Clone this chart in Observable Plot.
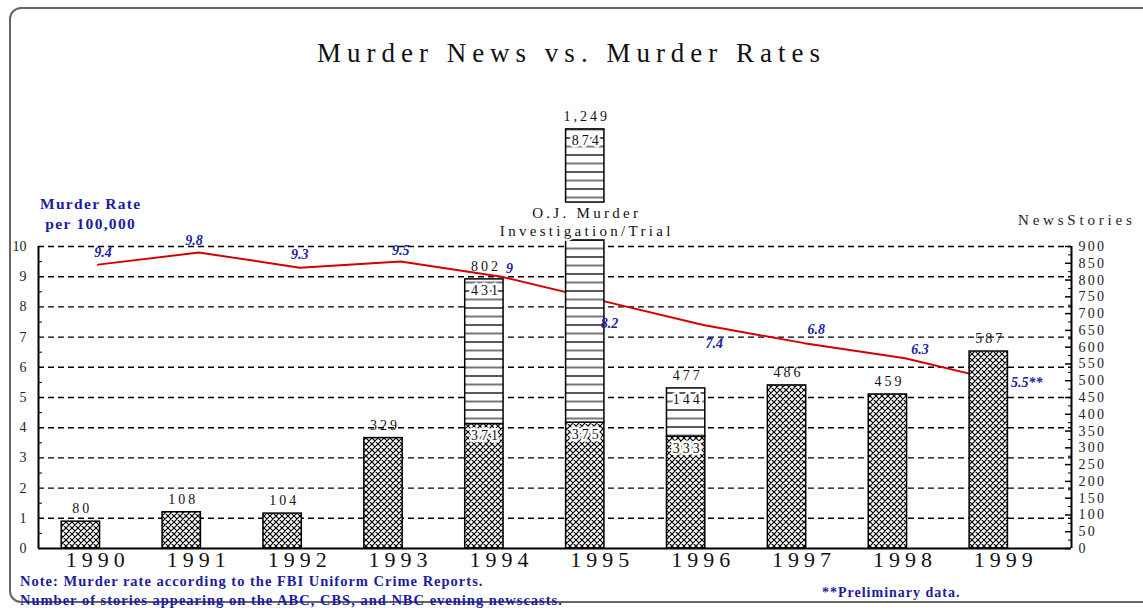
<!DOCTYPE html>
<html>
<head>
<meta charset="utf-8">
<script src="https://cdn.jsdelivr.net/npm/d3@7"></script>
<script src="https://cdn.jsdelivr.net/npm/@observablehq/plot@0.6"></script>
<style>
  html, body { margin: 0; padding: 0; background: #fff; }
  #wrap { position: relative; width: 1143px; height: 608px; overflow: hidden; font-family: "Liberation Serif", "DejaVu Serif", serif; }
  #frame { position: absolute; left: 9px; top: 7px; width: 1200px; height: 596px; border: 2px solid #666; border-radius: 12px; box-sizing: border-box; }
  #chart { position: absolute; left: 0; top: 0; }
  .t { position: absolute; white-space: nowrap; }
  #title { left: 0; width: 1143px; text-align: center; top: 38px; font-size: 27px; letter-spacing: 6px; color: #111; }
  .blue { color: #1c1ca0; font-weight: bold; }
  #rateTitle { left: 40px; top: 194px; font-size: 15.5px; letter-spacing: 1.3px; text-align: center; line-height: 20px; }
  #storyTitle { left: 1018px; top: 212px; font-size: 15px; letter-spacing: 3.8px; color: #222; }
  #note1 { left: 20px; top: 573px; font-size: 14.5px; letter-spacing: 1px; line-height: 16px; }
  #note2 { left: 20px; top: 592px; font-size: 14.5px; letter-spacing: 1px; line-height: 16px; }
  #prelim { left: 822px; top: 585px; font-size: 14px; letter-spacing: 1px; line-height: 16px; }
  #chart [aria-description="xlab"] text { letter-spacing: 5px; }
  #chart [aria-description="ylabR"] text { letter-spacing: 2.2px; }
  #chart [aria-description="barlab"] text { letter-spacing: 3px; }
  #chart [aria-description="ojlab"] text { letter-spacing: 3.3px; }
</style>
</head>
<body>
<div id="wrap">
  <div id="frame"></div>
  <div id="chart"></div>
  <div class="t" id="title">Murder News vs. Murder Rates</div>
  <div class="t blue" id="rateTitle">Murder Rate<br>per 100,000</div>
  <div class="t" id="storyTitle">NewsStories</div>
  <div class="t blue" id="note1">Note: Murder rate according to the FBI Uniform Crime Reports.</div>
  <div class="t blue" id="note2">Number of stories appearing on the ABC, CBS, and NBC evening newscasts.</div>
  <div class="t blue" id="prelim">**Preliminary data.</div>
</div>
<script>
// ---- data ----
const years = [1990, 1991, 1992, 1993, 1994, 1995, 1996, 1997, 1998, 1999];
const otherStories = [80, 108, 104, 329, 371, 375, 333, 486, 459, 587];
const ojStories = [0, 0, 0, 0, 431, 874, 144, 0, 0, 0];
const totalLabels = ["80", "108", "104", "329", "802", "1,249", "477", "486", "459", "587"];
const murderRate = [9.4, 9.8, 9.3, 9.5, 9, 8.2, 7.4, 6.8, 6.3, 5.5];
const rateLabels = ["9.4", "9.8", "9.3", "9.5", "9", "8.2", "7.4", "6.8", "6.3", "5.5**"];
const rateTicks = [0, 1, 2, 3, 4, 5, 6, 7, 8, 9, 10];
const storyTicks = [0, 50, 100, 150, 200, 250, 300, 350, 400, 450, 500, 550, 600, 650, 700, 750, 800, 850, 900];
const annotationYear = [1995];
const annotationLines = ["O.J. Murder", "Investigation/Trial"];
const annotationValue = [998, 945];
const annotationBreak = [918, 1031]; // stories range where the 1995 bar is interrupted by the label

// ---- derived ----
const K = 90; // stories per murder-rate unit (10 <-> 900)
const HW = 0.19; // bar half width in years
const XMIN = 1989.58, XMAX = 1999.82;

const other = years.map((y, i) => ({year: y, y1: 0, y2: otherStories[i], value: otherStories[i], stacked: ojStories[i] > 0}));
const oj = years.map((y, i) => ({year: y, y1: otherStories[i], y2: otherStories[i] + ojStories[i], value: ojStories[i]})).filter(d => d.value > 0);
const ojPieces = oj.flatMap(d => d.year === annotationYear[0]
  ? [{year: d.year, y1: d.y1, y2: annotationBreak[0]}, {year: d.year, y1: annotationBreak[1], y2: d.y2}]
  : [d]);
const totals = years.map((y, i) => ({year: y, total: otherStories[i] + ojStories[i], label: totalLabels[i]}));
const rates = years.map((y, i) => ({year: y, rate: murderRate[i], label: rateLabels[i]}));
const annot = annotationLines.map((t, i) => ({year: annotationYear[0], value: annotationValue[i], text: t}));

const minorLeft = d3.range(0.5, 10, 1).map(v => v * K);
const minorRight = d3.range(25, 900, 50);

const blue = "#1c1ca0";
// label placement (pixels) relative to each line vertex
const labelOffsets = {1990: [5, -12], 1991: [-5, -12], 1992: [0, -13], 1993: [0, -11], 1994: [8, -8], 1995: [7, 23], 1996: [11, 18], 1997: [12, -14], 1998: [15, -9], 1999: [5, 0]};

const rateTextMarks = rates.map(d => Plot.text([d], {
  x: r => r.year + 0.17, y: r => r.rate * K, text: "label", fill: blue, fontSize: 14, fontWeight: "bold", fontStyle: "italic",
  textAnchor: d.year === 1999 ? "start" : "middle", dx: labelOffsets[d.year][0], dy: labelOffsets[d.year][1]
}));

const chart = Plot.plot({
  width: 1143,
  height: 608,
  marginTop: 246,
  marginBottom: 60,
  marginLeft: 38,
  marginRight: 72,
  style: {fontFamily: "Liberation Serif, DejaVu Serif, serif", background: "transparent", color: "#111"},
  x: {type: "linear", domain: [XMIN, XMAX]},
  y: {domain: [0, 900]},
  marks: [
    Plot.gridY(rateTicks.filter(d => d > 0).map(d => d * K), {stroke: "#000", strokeOpacity: 1, strokeWidth: 1.4, strokeDasharray: "6,4"}),
    Plot.line(rates, {x: d => d.year + 0.17, y: d => d.rate * K, stroke: "#d40000", strokeWidth: 2}),
    Plot.rectY(other, {x1: d => d.year - HW, x2: d => d.year + HW, y1: "y1", y2: "y2", fill: "url(#hatch)", stroke: "#000", strokeWidth: 1.5}),
    Plot.rectY(ojPieces, {x1: d => d.year - HW, x2: d => d.year + HW, y1: "y1", y2: "y2", fill: "url(#stripes)", stroke: "#000", strokeWidth: 1.5}),
    // axis lines
    Plot.ruleY([0], {x1: XMIN, x2: XMAX, stroke: "#000", strokeWidth: 2}),
    Plot.ruleX([XMIN], {y1: 0, y2: 900, stroke: "#000", strokeWidth: 2}),
    Plot.ruleX([XMAX], {y1: 0, y2: 900, stroke: "#000", strokeWidth: 2}),
    Plot.tickY(minorLeft, {y: d => d, insetRight: 1029, stroke: "#000"}),
    Plot.tickY(storyTicks, {y: d => d, insetLeft: 1027, stroke: "#000", strokeWidth: 1.5}),
    Plot.tickY(minorRight, {y: d => d, insetLeft: 1030, stroke: "#000"}),
    Plot.axisY(rateTicks.map(d => d * K), {anchor: "left", label: null, tickSize: 0, tickPadding: 12, tickFormat: d => d / K, fontSize: 14, fill: "#222"}),
    Plot.axisY(storyTicks, {anchor: "right", label: null, tickSize: 0, tickPadding: 7, fontSize: 14, fill: "#222", tickFormat: d => d, ariaDescription: "ylabR"}),
    Plot.axisX(years, {anchor: "bottom", label: null, tickSize: 0, tickPadding: 3, dx: 17, fontSize: 22, fill: "#111", tickFormat: d => String(d), ariaDescription: "xlab"}),
    // bar value labels
    Plot.text(totals, {x: "year", y: "total", text: "label", dy: -13, dx: 1.5, fontSize: 14, fill: "#111", ariaDescription: "barlab"}),
    Plot.text(oj, {x: "year", y: "y2", text: d => String(d.value), dy: 11, dx: 1.5, fontSize: 14, fill: "#111", stroke: "#fff", strokeWidth: 5, paintOrder: "stroke", ariaDescription: "barlab"}),
    Plot.text(other.filter(d => d.stacked), {x: "year", y: "y2", text: d => String(d.value), dy: 12, dx: 1.5, fontSize: 14, fill: "#111", stroke: "#fff", strokeWidth: 5, paintOrder: "stroke", ariaDescription: "barlab"}),
    // OJ annotation
    Plot.text(annot, {x: "year", y: "value", text: "text", dx: 1.5, fontSize: 15, fill: "#111", stroke: "#fff", strokeWidth: 4, paintOrder: "stroke", ariaDescription: "ojlab"}),
    // murder rate labels
    ...rateTextMarks
  ]
});

// patterns
const defs = d3.select(chart).insert("defs", ":first-child");
const hatch = defs.append("pattern").attr("id", "hatch").attr("patternUnits", "userSpaceOnUse").attr("width", 6).attr("height", 6);
hatch.append("rect").attr("width", 6).attr("height", 6).attr("fill", "#fff");
hatch.append("path").attr("d", "M0,0L6,6M6,0L0,6M-1,5L1,7M5,-1L7,1").attr("stroke", "#000").attr("stroke-width", 1.2);
const stripes = defs.append("pattern").attr("id", "stripes").attr("patternUnits", "userSpaceOnUse").attr("width", 8).attr("height", 17);
stripes.append("rect").attr("width", 8).attr("height", 17).attr("fill", "#fff");
stripes.append("line").attr("x1", 0).attr("x2", 8).attr("y1", 2).attr("y2", 2).attr("stroke", "#000").attr("stroke-width", 1.3);
stripes.append("line").attr("x1", 0).attr("x2", 8).attr("y1", 10.5).attr("y2", 10.5).attr("stroke", "#777").attr("stroke-width", 2);

document.getElementById("chart").appendChild(chart);
</script>
</body>
</html>
